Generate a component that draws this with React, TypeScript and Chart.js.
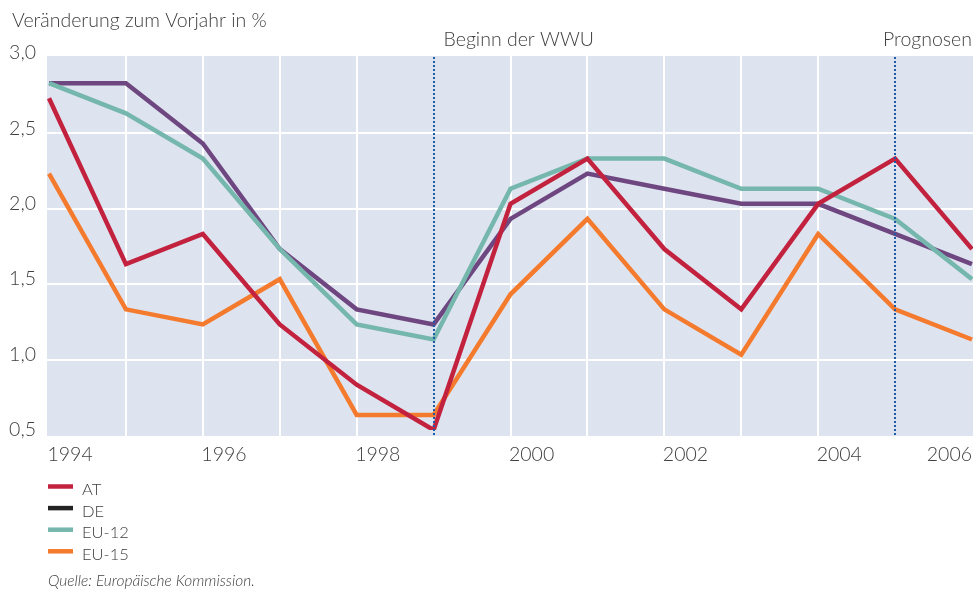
import React, { useEffect, useRef } from 'react';
import { Chart, registerables } from 'chart.js';

Chart.register(...registerables);

const years = ['1994', '1995', '1996', '1997', '1998', '1999', '2000', '2001', '2002', '2003', '2004', '2005', '2006'];
const xTickLabels = ['1994', '1996', '1998', '2000', '2002', '2004', '2006'];
const yTickValues = [0.5, 1.0, 1.5, 2.0, 2.5, 3.0];

const seriesNames = ['AT', 'DE', 'EU-12', 'EU-15'];
const atValues = [2.7, 1.6, 1.8, 1.2, 0.8, 0.5, 2.0, 2.3, 1.7, 1.3, 2.0, 2.3, 1.7];
const deValues = [2.8, 2.8, 2.4, 1.7, 1.3, 1.2, 1.9, 2.2, 2.1, 2.0, 2.0, 1.8, 1.6];
const eu12Values = [2.8, 2.6, 2.3, 1.7, 1.2, 1.1, 2.1, 2.3, 2.3, 2.1, 2.1, 1.9, 1.5];
const eu15Values = [2.2, 1.3, 1.2, 1.5, 0.6, 0.6, 1.4, 1.9, 1.3, 1.0, 1.8, 1.3, 1.1];

const lineColors = ['#c3223f', '#6f4780', '#75b7ad', '#f47b2e'];
const legendColors = ['#c3223f', '#222222', '#75b7ad', '#f47b2e'];
const drawOrder = [0, 3, 2, 1];

const markerYears = ['1999', '2005'];
const markerLabels = ['Beginn der WWU', 'Prognosen'];

const titleText = 'Veränderung zum Vorjahr in %';
const sourceText = 'Quelle: Europäische Kommission.';

const FONT = 'Lato, "Open Sans", sans-serif';
const TEXT = '#404040';
const FS = 19.5;

export default function App() {
  const ref = useRef<HTMLCanvasElement>(null);

  useEffect(() => {
    document.body.style.margin = '0';
    const canvas = ref.current;
    if (!canvas) return;

    const allValues = [atValues, deValues, eu12Values, eu15Values];

    const decor = {
      id: 'decor',
      beforeDatasetsDraw(chart: any) {
        const { ctx, chartArea: a, scales } = chart;
        const x = scales.x;
        const y = scales.y;
        const top = y.getPixelForValue(3.0) + 3;
        const bottom = y.getPixelForValue(0.5) + 6;
        ctx.save();
        ctx.fillStyle = '#dee3f0';
        ctx.fillRect(a.left - 2, top, a.right - a.left + 3, bottom - top);
        ctx.strokeStyle = '#ffffff';
        ctx.lineWidth = 2;
        yTickValues.forEach((v) => {
          if (v === 0.5 || v === 3.0) return;
          const py = Math.round(y.getPixelForValue(v) + 5);
          ctx.beginPath();
          ctx.moveTo(a.left - 2, py);
          ctx.lineTo(a.right + 1, py);
          ctx.stroke();
        });
        years.forEach((yr, i) => {
          if (i === 0 || i === years.length - 1 || markerYears.includes(yr)) return;
          const px = Math.round(x.getPixelForValue(i));
          ctx.beginPath();
          ctx.moveTo(px, top);
          ctx.lineTo(px, bottom);
          ctx.stroke();
        });
        ctx.restore();
      },
      afterDatasetsDraw(chart: any) {
        const { ctx, scales } = chart;
        const x = scales.x;
        const y = scales.y;
        const top = y.getPixelForValue(3.0) + 3;
        const bottom = y.getPixelForValue(0.5) + 6;
        ctx.save();
        ctx.strokeStyle = '#1a5ca8';
        ctx.lineWidth = 2;
        ctx.setLineDash([2, 2]);
        markerYears.forEach((yr) => {
          const px = Math.round(x.getPixelForValue(years.indexOf(yr)));
          ctx.beginPath();
          ctx.moveTo(px, Math.round(top) + 1);
          ctx.lineTo(px, bottom);
          ctx.stroke();
        });
        ctx.restore();
      },
      afterDraw(chart: any) {
        const { ctx, chartArea: a, scales } = chart;
        const x = scales.x;
        ctx.save();
        ctx.fillStyle = TEXT;
        ctx.font = `300 ${FS}px ${FONT}`;
        ctx.textBaseline = 'alphabetic';
        ctx.textAlign = 'left';
        ctx.fillText(titleText, 12, 27);

        markerYears.forEach((yr, k) => {
          const px = x.getPixelForValue(years.indexOf(yr));
          if (k === markerYears.length - 1) {
            ctx.textAlign = 'right';
            ctx.fillText(markerLabels[k], a.right, 46);
          } else {
            ctx.textAlign = 'left';
            ctx.fillText(markerLabels[k], px + 10, 46);
          }
        });

        xTickLabels.forEach((lab, k) => {
          const px = x.getPixelForValue(years.indexOf(lab));
          if (k === xTickLabels.length - 1) {
            ctx.textAlign = 'right';
            ctx.fillText(lab, a.right, 461);
          } else {
            ctx.textAlign = 'left';
            ctx.fillText(lab, px - 1.5, 461);
          }
        });

        ctx.font = `300 16.5px ${FONT}`;
        ctx.textAlign = 'left';
        ctx.textBaseline = 'alphabetic';
        seriesNames.forEach((name, i) => {
          const cy = 486.5 + i * 21.6;
          ctx.strokeStyle = legendColors[i];
          ctx.lineWidth = 4.5;
          ctx.beginPath();
          ctx.moveTo(48, cy);
          ctx.lineTo(73, cy);
          ctx.stroke();
          ctx.fillStyle = TEXT;
          ctx.fillText(name, 82, cy + 8.5);
        });

        ctx.textBaseline = 'alphabetic';
        ctx.font = `italic 300 15.5px ${FONT}`;
        ctx.fillText(sourceText, 48, 586);
        ctx.restore();
      },
    };

    const chart = new Chart(canvas, {
      type: 'line',
      data: {
        labels: years,
        datasets: seriesNames.map((name, i) => ({
          label: name,
          data: allValues[i],
          borderColor: lineColors[i],
          backgroundColor: lineColors[i],
          borderWidth: 4.5,
          pointRadius: 0,
          tension: 0,
          fill: false,
          order: drawOrder[i],
        })),
      },
      options: {
        responsive: false,
        animation: false,
        devicePixelRatio: 1,
        layout: { padding: { top: 53, bottom: 159, left: 0, right: 1 } },
        plugins: { legend: { display: false }, tooltip: { enabled: false } },
        scales: {
          x: {
            type: 'category',
            offset: false,
            grid: { display: false, drawTicks: false },
            border: { display: false },
            ticks: { display: false },
            afterFit: (s: any) => {
              s.height = 0;
            },
          },
          y: {
            min: 0.5,
            max: 3.0,
            grid: { display: false, drawTicks: false },
            border: { display: false },
            afterBuildTicks: (s: any) => {
              s.ticks = yTickValues.map((v) => ({ value: v }));
            },
            afterFit: (s: any) => {
              s.width = 49;
            },
            ticks: {
              padding: 13,
              color: TEXT,
              font: { family: FONT, size: FS, weight: 300 },
              callback: (v: any) => Number(v).toFixed(1).replace('.', ','),
            },
          },
        },
      },
      plugins: [decor],
    });

    return () => chart.destroy();
  }, []);

  return (
    <div style={{ position: 'absolute', left: 0, top: 0, width: 973, height: 589 }}>
      <canvas ref={ref} width={973} height={589} style={{ display: 'block' }} />
    </div>
  );
}
